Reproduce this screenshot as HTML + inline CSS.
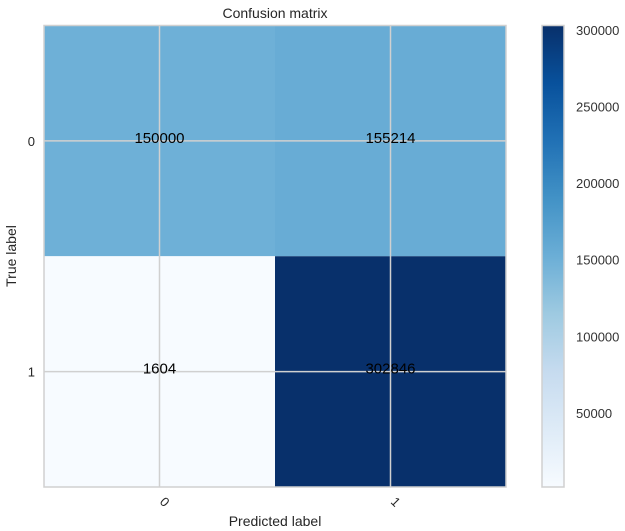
<!DOCTYPE html>
<html><head><meta charset="utf-8"><style>
body{margin:0;background:#fff;}
svg{display:block;font-family:"Liberation Sans",sans-serif;}
</style></head><body>
<svg id="c" width="625" height="531">
<text x="275" y="18" text-anchor="middle" font-size="14" fill="#262626">Confusion matrix</text>
<text x="275" y="526" text-anchor="middle" font-size="14" fill="#262626">Predicted label</text>
<text transform="translate(16,256) rotate(-90)" text-anchor="middle" font-size="14" fill="#262626">True label</text>
</svg>
<script>
const labels=["0","1"];
const row0=[150000,155214];
const row1=[1604,302846];
const cbTicks=[50000,100000,150000,200000,250000,300000];
const rows=[row0,row1];
const svg=document.getElementById('c');const NS='http://www.w3.org/2000/svg';
function mk(t,a,p){const e=document.createElementNS(NS,t);for(const k in a)e.setAttribute(k,a[k]);(p||svg).appendChild(e);return e;}
const X0=44,X1=506,Y0=25.5,Y1=487;
const cw=(X1-X0)/labels.length,ch=(Y1-Y0)/labels.length;
const all=rows.flat();const vmin=Math.min(...all),vmax=Math.max(...all);
const blues=["#f7fbff","#deebf7","#c6dbef","#9ecae1","#6baed6","#4292c6","#2171b5","#08519c","#08306b"];
function hx(h){return [1,3,5].map(i=>parseInt(h.substr(i,2),16));}
function cmap(v){let t=(v-vmin)/(vmax-vmin);t=Math.max(0,Math.min(1,t))*(blues.length-1);const i=Math.min(Math.floor(t),blues.length-2),f=t-i;const a=hx(blues[i]),b=hx(blues[i+1]);return 'rgb('+a.map((x,k)=>Math.round(x+(b[k]-x)*f)).join(',')+')';}
rows.forEach((r,i)=>r.forEach((v,j)=>{
 const c=mk('rect',{x:X0+j*cw,y:Y0+i*ch,width:cw,height:ch,fill:cmap(v)});
 
 
}));
labels.forEach((l,i)=>{
 const cx=X0+(i+0.5)*cw,cy=Y0+(i+0.5)*ch;
 mk('line',{x1:cx,x2:cx,y1:Y0,y2:Y1,stroke:'#d0d0d0','stroke-width':1.5});
 mk('line',{x1:X0,x2:X1,y1:cy,y2:cy,stroke:'#d0d0d0','stroke-width':1.5});
 const ty=mk('text',{x:35,y:cy+5,'text-anchor':'end','font-size':13,fill:'#262626'});ty.textContent=l;
 
 
 const tx=mk('text',{transform:'translate('+(cx+2)+',505) rotate(45)','text-anchor':'middle','font-size':13,fill:'#262626'});tx.textContent=l;
 
 
});
rows.forEach((r,i)=>r.forEach((v,j)=>{
 const t=mk('text',{x:X0+(j+0.5)*cw,y:Y0+(i+0.5)*ch+2,'text-anchor':'middle','font-size':15,fill:'#000'});t.textContent=v;
 
 
}));
mk('rect',{x:X0,y:Y0,width:X1-X0,height:Y1-Y0,fill:'none',stroke:'#d0d0d0','stroke-width':1.5});
const CX=542,CW=22;
const defs=mk('defs',{});const g=mk('linearGradient',{id:'gb',x1:0,y1:1,x2:0,y2:0},defs);
blues.forEach((b,i)=>mk('stop',{offset:i/(blues.length-1),'stop-color':b},g));
const cb=mk('rect',{x:CX,y:Y0,width:CW,height:Y1-Y0,fill:'url(#gb)',stroke:'#d0d0d0','stroke-width':1.5});


function cy(v){return Y1-(v-vmin)/(vmax-vmin)*(Y1-Y0);}
cbTicks.forEach(v=>{
 const t=mk('text',{x:CX+CW+12,y:cy(v)+5,'font-size':13,fill:'#333'});t.textContent=v;
 
 
});
</script>
</body></html>
